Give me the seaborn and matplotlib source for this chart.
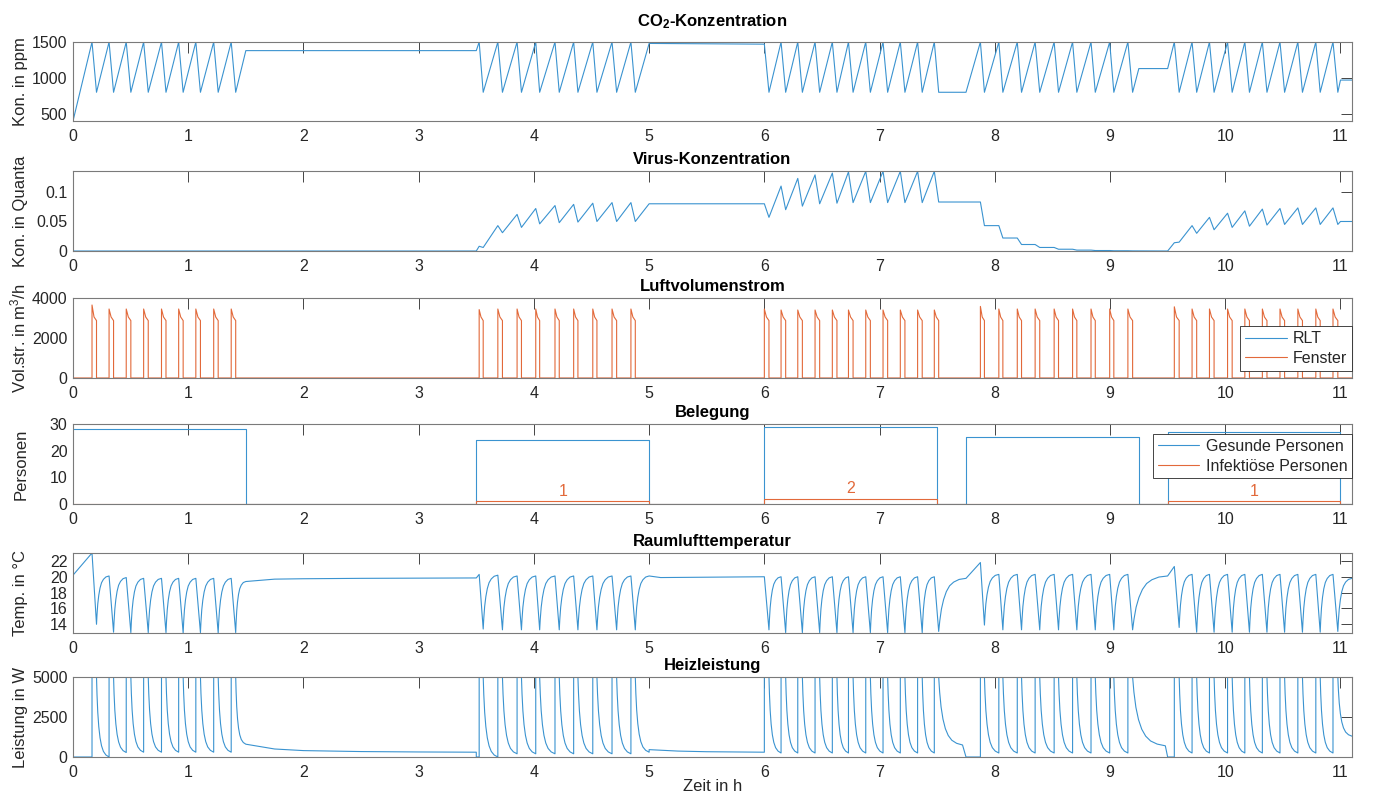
import matplotlib
matplotlib.use("Agg")
import matplotlib.pyplot as plt
import numpy as np
import pandas as pd
import seaborn as sns

# ---------------------------------------------------------------
# Simulationsergebnisse Klassenraum (Zeit in h)
# ---------------------------------------------------------------
T_END = 11.1
x_ticks = list(range(0, 12))

# Fensteröffnungen (Beginn / Ende) je Belegungsblock
open_A = [0.165, 0.313, 0.462, 0.613, 0.768, 0.917, 1.066, 1.221, 1.373]
close_A = [0.204, 0.352, 0.502, 0.653, 0.807, 0.956, 1.106, 1.260, 1.412]
open_B = [3.525, 3.687, 3.854, 4.016, 4.183, 4.345, 4.511, 4.678, 4.842]
close_B = [3.560, 3.727, 3.892, 4.050, 4.220, 4.382, 4.547, 4.718, 4.880]
open_C = [6.000, 6.145, 6.290, 6.440, 6.590, 6.730, 6.880, 7.030, 7.180, 7.330, 7.475]
close_C = [6.040, 6.185, 6.330, 6.480, 6.630, 6.770, 6.920, 7.070, 7.220, 7.370, 7.513]
open_D = [7.875, 8.035, 8.195, 8.350, 8.515, 8.675, 8.835, 8.997, 9.155]
close_D = [7.910, 8.070, 8.232, 8.390, 8.553, 8.712, 8.872, 9.033, 9.196]
open_E = [9.558, 9.712, 9.863, 10.020, 10.170, 10.322, 10.475, 10.630, 10.786, 10.935]
close_E = [9.600, 9.752, 9.903, 10.060, 10.210, 10.362, 10.515, 10.670, 10.824, 10.977]

# CO2-Konzentration (ppm): Grenzwerte der Fenstersteuerung und Zwischenphasen
CO2_UPPER = 1500
CO2_LOWER = 800
co2_start_t, co2_start_v = [0.0], [400]
co2_first_C = 1470
co2_gap_t = [[1.5, 3.5], [5.0], [7.75], [9.25, 9.5], [11.0, 11.1]]
co2_gap_v = [[1380, 1380], [1480], [800], [1130, 1130], [970, 970]]

# Virus-Konzentration (Quanta) bei Öffnen / Schließen
vir_open_B = [0.008, 0.043, 0.062, 0.072, 0.077, 0.079, 0.081, 0.082, 0.082]
vir_close_B = [0.006, 0.031, 0.040, 0.046, 0.048, 0.049, 0.050, 0.050, 0.050]
vir_open_C = [0.080, 0.110, 0.123, 0.129, 0.132, 0.134, 0.135, 0.135, 0.135, 0.135, 0.135]
vir_close_C = [0.057, 0.070, 0.076, 0.080, 0.081, 0.082, 0.082, 0.082, 0.082, 0.082, 0.083]
vir_open_D = [0.083, 0.043, 0.022, 0.011, 0.006, 0.003, 0.0015, 0.0008, 0.0004]
vir_close_D = [0.043, 0.022, 0.011, 0.006, 0.003, 0.0015, 0.0008, 0.0004, 0.0002]
vir_open_E = [0.014, 0.043, 0.057, 0.064, 0.068, 0.071, 0.072, 0.073, 0.073, 0.073]
vir_close_E = [0.015, 0.030, 0.036, 0.040, 0.042, 0.044, 0.045, 0.045, 0.045, 0.045]
vir_start_t, vir_start_v = [0.0, 3.5], [0.0, 0.0]
vir_gap_t = [[5.0], [], [9.5], [11.0, 11.1]]
vir_gap_v = [[0.080], [], [0.0], [0.050, 0.050]]

# Luftvolumenstrom Fenster (m3/h): Spitzenwert je Öffnung
win_peak_A = [3650, 3450, 3450, 3450, 3450, 3450, 3450, 3450, 3450]
win_peak_B = [3420, 3450, 3450, 3450, 3450, 3450, 3450, 3450, 3450]
win_peak_C = [3450, 3400, 3400, 3400, 3400, 3400, 3400, 3400, 3400, 3400, 3400]
win_peak_D = [3580, 3450, 3450, 3450, 3450, 3450, 3450, 3450, 3450]
win_peak_E = [3560, 3450, 3450, 3450, 3450, 3450, 3450, 3450, 3450, 3450]
WIN_MID = 3050
WIN_END = 2870
rlt_t, rlt_v = [0.0, T_END], [0, 0]

# Belegung
occ_t = [0.0, 1.5, 3.5, 5.0, 6.0, 7.5, 7.75, 9.25, 9.5, 11.0, T_END]
healthy = [28, 0, 24, 0, 29, 0, 25, 0, 27, 0, 0]
infectious = [0, 0, 1, 0, 2, 0, 0, 0, 1, 0, 0]

# Raumlufttemperatur (°C) bei Öffnen / Schließen
temp_open_A = [23.0, 20.1, 19.9, 19.8, 19.8, 19.8, 19.8, 19.8, 19.8]
temp_close_A = [14.0, 13.0, 12.95, 12.95, 12.95, 12.9, 12.95, 12.9, 12.95]
temp_open_B = [20.3, 20.2, 20.1, 20.1, 20.1, 20.1, 20.1, 20.1, 20.1]
temp_close_B = [13.4, 13.3, 13.3, 13.3, 13.3, 13.3, 13.3, 13.3, 13.3]
temp_open_C = [20.0, 20.0, 20.0, 20.0, 20.0, 20.0, 20.0, 20.0, 20.0, 20.0, 20.0]
temp_close_C = [13.3, 12.95, 12.95, 12.95, 12.95, 12.95, 12.95, 12.95, 12.95, 12.95, 13.1]
temp_open_D = [21.8, 20.3, 20.3, 20.3, 20.3, 20.3, 20.3, 20.3, 20.3]
temp_close_D = [13.9, 13.3, 13.3, 13.3, 13.3, 13.3, 13.3, 13.3, 13.3]
temp_open_E = [21.3, 20.3, 20.3, 20.3, 20.3, 20.3, 20.3, 20.3, 20.3, 20.3]
temp_close_E = [13.6, 13.0, 13.0, 13.0, 13.0, 13.0, 13.0, 13.0, 13.0, 13.1]
temp_start_t, temp_start_v = [0.0], [20.2]
temp_gap_t = [[1.5, 1.75, 2.0, 2.5, 3.5], [5.0, 5.1], [7.75], [9.5], [T_END]]
temp_gap_v = [[19.4, 19.7, 19.75, 19.8, 19.85], [20.1, 19.9], [19.8], [20.1], [19.8]]
# Verlauf der Wiedererwärmung nach dem Schließen (Anteil Zeit / Anteil Hub)
rec_x = [0.04, 0.10, 0.18, 0.28, 0.40, 0.55, 0.75, 1.0]
rec_y = [0.20, 0.42, 0.60, 0.75, 0.86, 0.93, 0.98, 1.0]

# Heizleistung (W): Maximalleistung und Restleistung vor jeder Öffnung
HEAT_MAX = 5000
heat_low_A = [0, 0, 280, 300, 300, 300, 300, 300, 300]
heat_low_B = [0, 0, 200, 200, 200, 200, 200, 200, 200]
heat_low_C = [300, 250, 250, 250, 250, 250, 250, 250, 250, 250, 250]
heat_low_D = [0, 250, 250, 250, 250, 250, 250, 250, 250]
heat_low_E = [0, 250, 250, 250, 250, 250, 250, 250, 250, 250]
heat_start_t, heat_start_v = [0.0], [0]
heat_gap_t = [[1.5, 1.75, 2.0, 2.5, 3.0, 3.5, 3.5], [5.0, 5.0, 5.25, 5.5],
              [7.72, 7.75], [9.48, 9.5], [T_END]]
heat_gap_v = [[800, 500, 400, 340, 315, 300, 0], [300, 460, 370, 330],
              [750, 0], [700, 0], [1300]]
# Abklingverlauf nach dem Schließen (Anteil Zeit / Anteil Abfall)
dec_x = [0.04, 0.10, 0.18, 0.28, 0.40, 0.55, 0.75, 1.0]
dec_y = [0.22, 0.44, 0.62, 0.76, 0.86, 0.93, 0.975, 1.0]

opens = [open_A, open_B, open_C, open_D, open_E]
closes = [close_A, close_B, close_C, close_D, close_E]


# ---------------------------------------------------------------
# Hilfsfunktionen zum Zusammensetzen der Verläufe
# ---------------------------------------------------------------
def bend(t0, v0, t1, v1, fx, fy):
    return ([t0 + a * (t1 - t0) for a in fx], [v0 + b * (v1 - v0) for b in fy])


def cycles(o_list, c_list, tops, bottoms, fx=None, fy=None):
    t, v = [], []
    for i in range(len(o_list)):
        if i > 0 and fx is not None:
            bt, bv = bend(c_list[i - 1], bottoms[i - 1], o_list[i], tops[i], fx, fy)
            t += bt[:-1]
            v += bv[:-1]
        t += [o_list[i], c_list[i]]
        v += [tops[i], bottoms[i]]
    return t, v


def heat_cycles(o_list, c_list, lows, fx, fy):
    t, v = [], []
    for i in range(len(o_list)):
        if i > 0:
            bt, bv = bend(c_list[i - 1], HEAT_MAX, o_list[i], lows[i], fx, fy)
            t += bt[:-1]
            v += bv[:-1]
        t += [o_list[i], o_list[i], c_list[i]]
        v += [lows[i], HEAT_MAX, HEAT_MAX]
    return t, v


def assemble(start_t, start_v, blocks, gap_t, gap_v, fx=None, fy=None):
    t, v = list(start_t), list(start_v)
    for (bt, bv), gt, gv in zip(blocks, gap_t, gap_v):
        t += bt
        v += bv
        if gt:
            if fx is not None:
                ct, cv = bend(t[-1], v[-1], gt[0], gv[0], fx, fy)
                t += ct[:-1]
                v += cv[:-1]
            t += gt
            v += gv
    return pd.DataFrame({"t": t, "v": v})


# CO2
co2_blocks = []
for k, (o, c) in enumerate(zip(opens, closes)):
    tops = [CO2_UPPER] * len(o)
    if k == 2:
        tops[0] = co2_first_C
    co2_blocks.append(cycles(o, c, tops, [CO2_LOWER] * len(c)))
co2 = assemble(co2_start_t, co2_start_v, co2_blocks, co2_gap_t, co2_gap_v)

# Virus
vir_blocks = [cycles(open_B, close_B, vir_open_B, vir_close_B),
              cycles(open_C, close_C, vir_open_C, vir_close_C),
              cycles(open_D, close_D, vir_open_D, vir_close_D),
              cycles(open_E, close_E, vir_open_E, vir_close_E)]
virus = assemble(vir_start_t, vir_start_v, vir_blocks, vir_gap_t, vir_gap_v)

# Fenster-Volumenstrom
win_peaks = [win_peak_A, win_peak_B, win_peak_C, win_peak_D, win_peak_E]
wt, wv = [0.0], [0]
for o_list, c_list, p_list in zip(opens, closes, win_peaks):
    for o, c, p in zip(o_list, c_list, p_list):
        wt += [o, o, o + 0.45 * (c - o), c, c]
        wv += [0, p, WIN_MID, WIN_END, 0]
wt.append(T_END)
wv.append(0)
window = pd.DataFrame({"t": wt, "v": wv})
rlt = pd.DataFrame({"t": rlt_t, "v": rlt_v})

# Temperatur
temp_tops = [temp_open_A, temp_open_B, temp_open_C, temp_open_D, temp_open_E]
temp_bots = [temp_close_A, temp_close_B, temp_close_C, temp_close_D, temp_close_E]
temp_blocks = [cycles(o, c, a, b, rec_x, rec_y)
               for o, c, a, b in zip(opens, closes, temp_tops, temp_bots)]
temp = assemble(temp_start_t, temp_start_v, temp_blocks, temp_gap_t, temp_gap_v,
                rec_x, rec_y)

# Heizleistung
heat_lows = [heat_low_A, heat_low_B, heat_low_C, heat_low_D, heat_low_E]
heat_blocks = [heat_cycles(o, c, l, dec_x, dec_y)
               for o, c, l in zip(opens, closes, heat_lows)]
heat = assemble(heat_start_t, heat_start_v, heat_blocks, heat_gap_t, heat_gap_v,
                dec_x, dec_y)

occ = pd.DataFrame({"t": occ_t, "healthy": healthy, "infectious": infectious})

# ---------------------------------------------------------------
# Darstellung
# ---------------------------------------------------------------
sns.set_theme(style="white")
plt.rcParams["font.family"] = ["Liberation Sans", "DejaVu Sans"]
plt.rcParams["mathtext.fontset"] = "custom"
plt.rcParams["mathtext.rm"] = "Liberation Sans"
plt.rcParams["mathtext.it"] = "Liberation Sans:italic"
plt.rcParams["mathtext.bf"] = "Liberation Sans:bold"
plt.rcParams["mathtext.default"] = "regular"

BLUE = "#3A93D0"
ORANGE = "#E2693A"
DARK = "#262626"
LW = 0.8

W, H = 1375, 793
fig = plt.figure(figsize=(W / 100, H / 100), dpi=100)
left_px, right_px = 73, 1352
rows_px = [(42, 121), (171, 251), (298, 378), (424, 504), (553, 633), (677, 757)]
axes = [fig.add_axes([left_px / W, 1 - b / H, (right_px - left_px) / W, (b - t) / H])
        for t, b in rows_px]


def style(ax, title, ylabel, yticks, ylim, title_pad=5):
    ax.set_xlim(0, T_END)
    ax.set_ylim(*ylim)
    ax.set_xticks(x_ticks)
    ax.set_yticks(yticks)
    ax.tick_params(direction="in", length=8, width=0.6, top=True, right=True,
                   colors=DARK, labelsize=11.5, pad=4)
    ax.tick_params(axis="x", pad=6)
    for s in ax.spines.values():
        s.set_color("#7a7a7a")
        s.set_linewidth(0.8)
        s.set_visible(True)
    ax.set_title(title, fontsize=12, fontweight="bold", color="black", pad=title_pad)
    ax.set_ylabel(ylabel, fontsize=12, color=DARK)
    ax.yaxis.set_label_coords(-0.035, 0.5)
    ax.set_xlabel("")
    ax.grid(False)


def line(ax, df, x, y, color, label=None):
    sns.lineplot(data=df, x=x, y=y, sort=False, estimator=None, color=color,
                 linewidth=LW, ax=ax, label=label, legend=False)


ax = axes[0]
line(ax, co2, "t", "v", BLUE)
style(ax, "CO$_2$-Konzentration", "Kon. in ppm", [500, 1000, 1500],
      (min(co2_start_v), CO2_UPPER), title_pad=11)

ax = axes[1]
line(ax, virus, "t", "v", BLUE)
style(ax, "Virus-Konzentration", "Kon. in Quanta", [0, 0.05, 0.1],
      (0, virus["v"].max() * 1.004))
ax.yaxis.set_major_formatter(matplotlib.ticker.FuncFormatter(lambda v, p: f"{v:g}"))

ax = axes[2]
line(ax, rlt, "t", "v", BLUE, "RLT")
line(ax, window, "t", "v", ORANGE, "Fenster")
style(ax, "Luftvolumenstrom", "Vol.str. in m$^3$/h", [0, 2000, 4000], (0, 4000))

ax = axes[3]
line(ax, occ, "t", "healthy", BLUE, "Gesunde Personen")
axes[3].lines[-1].set_drawstyle("steps-post")
line(ax, occ, "t", "infectious", ORANGE, "Infektiöse Personen")
axes[3].lines[-1].set_drawstyle("steps-post")
for i in range(len(occ_t) - 1):
    if infectious[i] > 0:
        ax.text((occ_t[i] + occ_t[i + 1]) / 2, infectious[i] + 2, str(infectious[i]),
                color=ORANGE, fontsize=11.5, ha="center", va="baseline")
style(ax, "Belegung", "Personen", [0, 10, 20, 30], (0, 30))

ax = axes[4]
line(ax, temp, "t", "v", BLUE)
style(ax, "Raumlufttemperatur", "Temp. in °C", [14, 16, 18, 20, 22],
      (temp["v"].min(), temp["v"].max()))

ax = axes[5]
line(ax, heat, "t", "v", BLUE)
style(ax, "Heizleistung", "Leistung in W", [0, 2500, 5000], (0, HEAT_MAX))
ax.set_xlabel("Zeit in h", fontsize=12, color=DARK, labelpad=-1)

leg_kw = dict(frameon=True, fancybox=False, framealpha=1, edgecolor=DARK,
              fontsize=11.5, handlelength=2.6, borderpad=0.3, labelspacing=0.3,
              handletextpad=0.4, borderaxespad=0)
lg = axes[2].legend(loc="lower right", bbox_to_anchor=(1.0, 0.09), **leg_kw)
lg.get_frame().set_linewidth(0.6)
lg = axes[3].legend(loc="upper right", bbox_to_anchor=(1.0, 0.875), **leg_kw)
lg.get_frame().set_linewidth(0.6)

fig.savefig("out.png", dpi=100)
